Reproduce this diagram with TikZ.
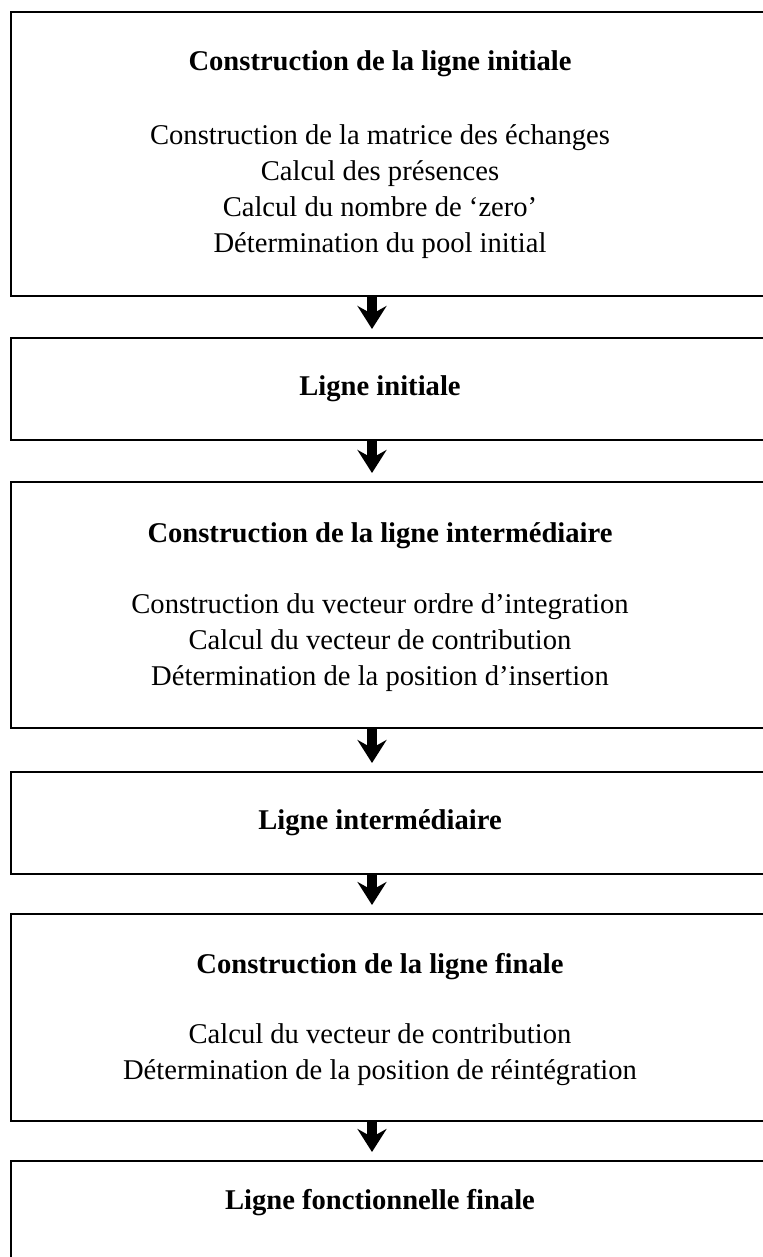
\documentclass[tikz,border=0pt]{standalone}
\usepackage{fontspec}
\setmainfont{Liberation Serif}
\usetikzlibrary{arrows.meta,positioning,calc}

\begin{document}
\begin{tikzpicture}[x=0.5pt,y=-0.5pt]

           \tikzstyle{etape}=[draw=black, line width=1pt, rectangle, anchor=north west, inner sep=0pt, minimum width=390pt]
           \tikzstyle{titre}=[font=\bfseries\fontsize{14.3}{18}\selectfont, inner sep=0pt]
           \tikzstyle{corps}=[font=\fontsize{14.3}{18}\selectfont, align=center, inner sep=0pt]
           \tikzstyle{fleche}=[-{Stealth[length=11.5pt,width=14.5pt,inset=4pt]}, line width=5pt, shorten >=4pt]

    \useasboundingbox (0,0) rectangle (763,1257);

    \node[etape, minimum height=142pt]   (B1) at (10,11) {};
    \node[etape, minimum height=51pt]    (B2) at (10,337) {};
    \node[etape, minimum height=123pt]   (B3) at (10,481) {};
    \node[etape, minimum height=51pt]    (B4) at (10,771) {};
    \node[etape, minimum height=103.5pt] (B5) at (10,913) {};
    \node[etape, minimum height=65pt]    (B6) at (10,1160) {};

    \node[titre] (T1) at (380,64) {Construction de la ligne initiale};
    \node[corps] (C1) at (380,192) {Construction de la matrice des échanges\\Calcul des présences\\Calcul du nombre de ‘zero’\\Détermination du pool initial};
    \node[titre] (T2) at (380,389) {Ligne initiale};
    \node[titre] (T3) at (380,536) {Construction de la ligne intermédiaire};
    \node[corps] (C3) at (380,643) {Construction du vecteur ordre d’integration\\Calcul du vecteur de contribution\\Détermination de la position d’insertion};
    \node[titre] (T4) at (380,823) {Ligne intermédiaire};
    \node[titre] (T5) at (380,967) {Construction de la ligne finale};
    \node[corps] (C5) at (380,1055) {Calcul du vecteur de contribution\\Détermination de la position de réintégration};
    \node[titre] (T6) at (380,1203) {Ligne fonctionnelle finale};

    \coordinate (X) at (372,0);

    \draw[fleche] (B1.south -| X) -- (B2.north -| X);
    \draw[fleche] (B2.south -| X) -- (B3.north -| X);
    \draw[fleche] (B3.south -| X) -- (B4.north -| X);
    \draw[fleche] (B4.south -| X) -- (B5.north -| X);
    \draw[fleche] (B5.south -| X) -- (B6.north -| X);

\end{tikzpicture}
\end{document}
